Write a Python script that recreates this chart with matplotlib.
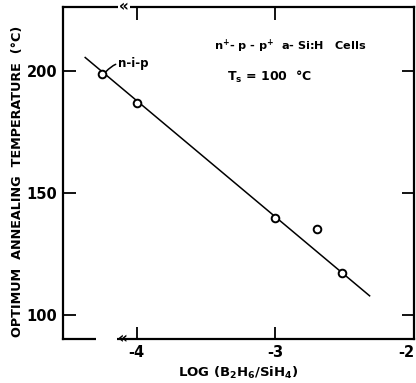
import matplotlib
matplotlib.use("Agg")
import matplotlib.pyplot as plt
from matplotlib.patches import Rectangle

plt.rcParams['font.family'] = ['DejaVu Sans']
plt.rcParams['mathtext.default'] = 'regular'

# measured optimum annealing temperatures vs boron doping ratio
log_ratio = [-4.25, -4.0, -3.0, -2.70, -2.52]
temperature = [198.6, 186.7, 139.6, 135.1, 117.1]

# least-squares trend line endpoints
fit_x = [-4.37, -2.32]
fit_y = [205.4, 107.7]

xticks = [-4, -3, -2]
xtick_labels = ['-4', '-3', '-2']
yticks = [100, 150, 200]

fig = plt.figure(figsize=(4.16, 3.83), dpi=100)
ax = fig.add_axes([63/416, 44/383, 351/416, 332/383])

ax.plot(fit_x, fit_y, color='black', lw=1.1, zorder=2)
ax.plot(log_ratio, temperature, 'o', mfc='white', mec='black', mew=1.4, ms=5.5, zorder=3)

ax.set_xlim(-4.53, -2.0)
ax.set_ylim(90.0, 226.1)
ax.set_xticks(xticks)
ax.set_xticklabels(xtick_labels)
ax.set_yticks(yticks)

ax.tick_params(direction='in', length=9, width=1.3, top=True, right=True,
               labelsize=10.5, pad=4)
for s in ax.spines.values():
    s.set_linewidth(1.6)

for lbl in ax.get_xticklabels() + ax.get_yticklabels():
    lbl.set_fontweight('bold')
# keep the last x label inside the figure edge
ax.get_xticklabels()[-1].set_horizontalalignment('right')

ax.set_xlabel('LOG (B$_2$H$_6$/SiH$_4$)', fontsize=9.5, fontweight='bold', labelpad=4)
ax.set_ylabel('OPTIMUM  ANNEALING  TEMPERATURE  (°C)', fontsize=9.2,
              fontweight='bold')
ax.yaxis.set_label_coords(-0.112, 0.475)

# axis-break marks on the top and bottom spines
gap = Rectangle((-4.29, -0.01), 0.15, 0.02, transform=ax.get_xaxis_transform(),
                facecolor='white', edgecolor='none', zorder=4, clip_on=False)
ax.add_patch(gap)
ax.text(-4.10, 0.0, '«', transform=ax.get_xaxis_transform(), ha='center',
        va='center', fontsize=11, fontweight='bold', zorder=5, clip_on=False)
ax.text(-4.09, 1.0, '«', transform=ax.get_xaxis_transform(), ha='center',
        va='center', fontsize=11, fontweight='bold', zorder=5, clip_on=False,
        bbox=dict(boxstyle='square,pad=0.05', fc='white', ec='none'))

ax.text(-3.44, 210.0, 'n$^{+}$- p - p$^{+}$  a- Si:H   Cells', fontsize=8.1,
        fontweight='bold', ha='left', va='center')
ax.text(-3.35, 197.4, 'T$_{s}$ = 100  °C', fontsize=9, fontweight='bold',
        ha='left', va='center')

ax.annotate('n-i-p', xy=(log_ratio[0] + 0.03, temperature[0] + 1),
            xytext=(-4.13, 203.1), fontsize=8.5, fontweight='bold',
            ha='left', va='center',
            arrowprops=dict(arrowstyle='-', color='black', lw=1.1,
                            connectionstyle='arc3,rad=0.3', shrinkA=0, shrinkB=0))

fig.savefig('out.png', dpi=100)
